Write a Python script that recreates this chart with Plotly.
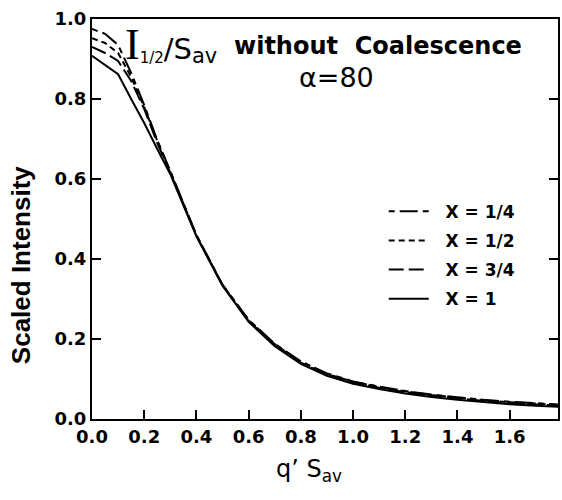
import plotly.graph_objects as go

q = [0.0, 0.05, 0.1, 0.15, 0.2, 0.25, 0.3, 0.4, 0.5, 0.6, 0.7, 0.8, 0.9, 1.0,
     1.1, 1.2, 1.3, 1.4, 1.5, 1.6, 1.7, 1.8]
x_quarter = [0.975, 0.963, 0.935, 0.865, 0.785, 0.697, 0.620, 0.460, 0.336, 0.248, 0.188,
             0.144, 0.114, 0.094, 0.081, 0.070, 0.061, 0.054, 0.048, 0.043, 0.039, 0.036]
x_half = [0.952, 0.940, 0.915, 0.855, 0.780, 0.695, 0.618, 0.459, 0.335, 0.247, 0.187,
          0.143, 0.113, 0.093, 0.080, 0.069, 0.060, 0.053, 0.047, 0.042, 0.038, 0.035]
x_threeq = [0.930, 0.915, 0.895, 0.845, 0.775, 0.690, 0.615, 0.458, 0.334, 0.245, 0.185,
            0.141, 0.111, 0.091, 0.078, 0.067, 0.058, 0.051, 0.045, 0.040, 0.036, 0.033]
x_one = [0.908, 0.885, 0.862, 0.800, 0.740, 0.675, 0.612, 0.457, 0.333, 0.243, 0.182,
         0.138, 0.108, 0.088, 0.075, 0.064, 0.055, 0.048, 0.042, 0.037, 0.033, 0.030]

x_ticks = [0.0, 0.2, 0.4, 0.6, 0.8, 1.0, 1.2, 1.4, 1.6]
x_labels = ["0.0", "0.2", "0.4", "0.6", "0.8", "1.0", "1.2", "1.4", "1.6"]
y_ticks = [0.0, 0.2, 0.4, 0.6, 0.8, 1.0]
y_labels = ["0.0", "0.2", "0.4", "0.6", "0.8", "1.0"]

series = [
    ("X = 1/4", x_quarter, "6px,5px,18px,5px"),
    ("X = 1/2", x_half, "6px,4px"),
    ("X = 3/4", x_threeq, "15px,5px"),
    ("X = 1", x_one, "solid"),
]

fig = go.Figure()
for i, (name, ys, dash) in enumerate(series):
    fig.add_trace(go.Scatter(x=q, y=ys, mode="lines", name="\u00a0\u00a0" + name,
                             legendgroup="g%d" % i,
                             line=dict(color="black", width=2, dash=dash)))

fig.update_layout(
    width=562, height=500,
    margin=dict(l=92, r=2, t=19, b=81),
    paper_bgcolor="white", plot_bgcolor="white",
    showlegend=True,
    legend=dict(x=0.626, y=0.563, xanchor="left", yanchor="top",
                bgcolor="rgba(0,0,0,0)", borderwidth=0,
                font=dict(family="DejaVu Sans", size=17, color="black", weight="bold"),
                tracegroupgap=4, itemwidth=40),
    font=dict(family="DejaVu Sans", color="black"),
)

fig.update_xaxes(range=[0, 1.785], tickvals=x_ticks,
                 ticktext=["<b>%s</b>" % t for t in x_labels],
                 ticks="inside", ticklen=9, tickwidth=2, tickcolor="black",
                 showline=True, linecolor="black", linewidth=2, mirror=True,
                 showgrid=False, zeroline=False,
                 tickfont=dict(family="DejaVu Sans", size=18, color="black"))
fig.update_yaxes(range=[0, 1.0], tickvals=y_ticks,
                 ticktext=["<b>%s</b>" % t for t in y_labels],
                 ticks="inside", ticklen=9, tickwidth=2, tickcolor="black",
                 showline=True, linecolor="black", linewidth=2, mirror="ticks",
                 showgrid=False, zeroline=False,
                 tickfont=dict(family="DejaVu Sans", size=18, color="black"))

# axis titles
fig.add_annotation(xref="paper", yref="paper", x=-0.152, y=0.385, xanchor="center", yanchor="middle",
                   textangle=-90, text="<b>Scaled Intensity</b>", showarrow=False,
                   font=dict(family="Liberation Sans", size=26, color="black"))
fig.add_annotation(xref="paper", yref="paper", x=0.466, y=-0.13, xanchor="center", yanchor="middle",
                   text="q\u2019 S<sub>av</sub>", showarrow=False,
                   font=dict(family="DejaVu Sans", size=24, color="black"))

# inset texts
fig.add_annotation(xref="paper", yref="paper", x=0.066, y=0.935, xanchor="left", yanchor="middle",
                   text="<span style='font-family:Liberation Serif;font-size:44px'>I</span>"
                        "<sub><span style='font-size:15px'>1/2</span></sub>"
                        "<span style='font-size:29px'>/S</span>"
                        "<sub><span style='font-size:21px'>av</span></sub>",
                   showarrow=False, font=dict(family="DejaVu Sans", size=21, color="black"))
fig.add_annotation(xref="paper", yref="paper", x=0.614, y=0.932, xanchor="center", yanchor="middle",
                   text="<b>without  Coalescence</b>", showarrow=False,
                   font=dict(family="DejaVu Sans", size=24, color="black"))
fig.add_annotation(xref="paper", yref="paper", x=0.524, y=0.853, xanchor="center", yanchor="middle",
                   text="\u03b1=80", showarrow=False,
                   font=dict(family="DejaVu Sans", size=27, color="black"))

fig.write_html("out.html")
